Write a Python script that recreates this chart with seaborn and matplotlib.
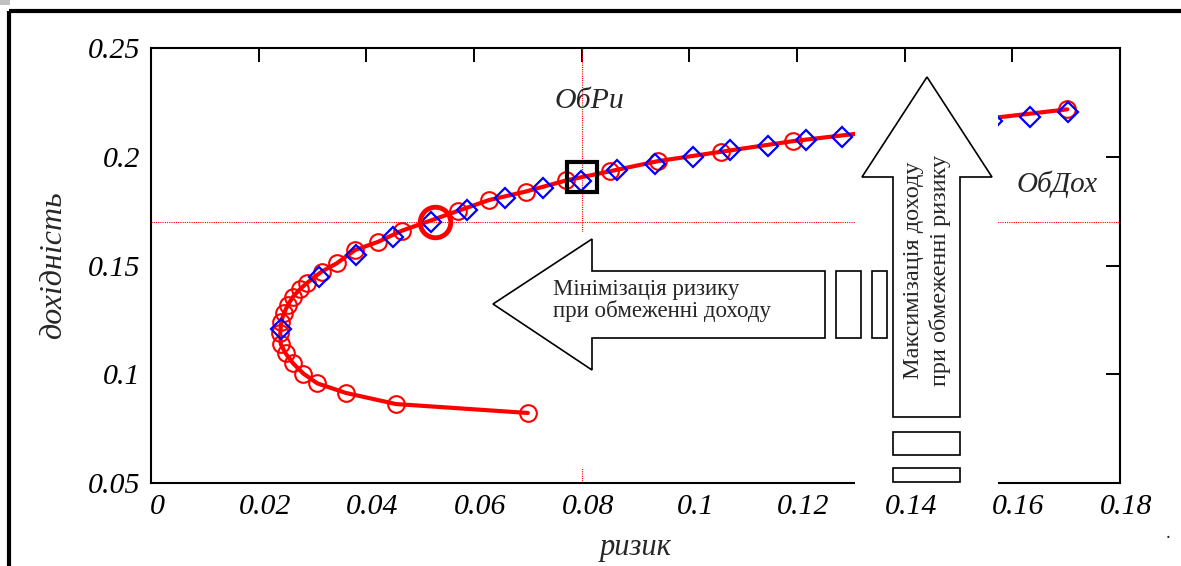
import numpy as np
import matplotlib
matplotlib.use("Agg")
import matplotlib.pyplot as plt
from matplotlib.patches import Polygon, Rectangle
from matplotlib.transforms import ScaledTranslation
import seaborn as sns

# ---------------- data ----------------
risk_frontier = [0.0700, 0.0455, 0.0362, 0.0309, 0.0283, 0.0264, 0.0250, 0.0241, 0.0240,
                 0.0242, 0.0247, 0.0254, 0.0264, 0.0277, 0.0290, 0.0317, 0.0345, 0.0379,
                 0.0422, 0.0466, 0.0570, 0.0628, 0.0696, 0.0771, 0.0852, 0.0942, 0.1059,
                 0.1193, 0.1702]
return_frontier = [0.0822, 0.0863, 0.0914, 0.0958, 0.1003, 0.1050, 0.1096, 0.1139, 0.1188,
                   0.1242, 0.1280, 0.1318, 0.1357, 0.1392, 0.1420, 0.1472, 0.1510, 0.1571,
                   0.1609, 0.1660, 0.1751, 0.1801, 0.1840, 0.1891, 0.1933, 0.1980, 0.2023,
                   0.2072, 0.2218]

risk_points = [0.0241, 0.0313, 0.0380, 0.0450, 0.0521, 0.0587, 0.0658, 0.0729, 0.0799,
               0.0866, 0.0936, 0.1007, 0.1076, 0.1147, 0.1217, 0.1283, 0.1562, 0.1633, 0.1704]
return_points = [0.1210, 0.1449, 0.1548, 0.1632, 0.1701, 0.1753, 0.1809, 0.1856, 0.1890,
                 0.1938, 0.1965, 0.2000, 0.2031, 0.2049, 0.2076, 0.2092, 0.2165, 0.2184, 0.2204]

risk_limit = 0.08        # ОбРи
return_limit = 0.17      # ОбДох
opt_min_risk = (0.0528, 0.1701)   # min risk at return limit
opt_max_ret = (0.0801, 0.1907)    # max return at risk limit

x_ticks = [0, 0.02, 0.04, 0.06, 0.08, 0.10, 0.12, 0.14, 0.16, 0.18]
x_tick_labels = ["0", "0.02", "0.04", "0.06", "0.08", "0.1", "0.12", "0.14", "0.16", "0.18"]
y_ticks = [0.05, 0.10, 0.15, 0.20, 0.25]
y_tick_labels = ["0.05", "0.1", "0.15", "0.2", "0.25"]

x_label = "ризик"
y_label = "дохідність"
label_risk = "ОбРи"
label_return = "ОбДох"
arrow_left_text = "Мінімізація ризику\nпри обмеженні доходу"
arrow_up_text = "Максимізація доходу\nпри обмеженні ризику"

# ---------------- style ----------------
sns.set_theme(style="white")
plt.rcParams["font.family"] = ["Liberation Serif", "DejaVu Serif"]

W, H = 1181, 566
fig = plt.figure(figsize=(W / 100, H / 100), dpi=100)
ax_l, ax_r, ax_t, ax_b = 151, 1120, 48, 483
ax = fig.add_axes([ax_l / W, 1 - ax_b / H, (ax_r - ax_l) / W, (ax_b - ax_t) / H])

ax.axhline(return_limit, color="red", lw=0.8, ls=(0, (1, 1)), zorder=1)
ax.axvline(risk_limit, color="red", lw=0.8, ls=(0, (1, 1)), zorder=1)

sns.lineplot(x=risk_frontier, y=return_frontier, sort=False, estimator=None, ax=ax,
             color="red", linewidth=3, marker="o", markersize=12,
             markerfacecolor="none", markeredgecolor="red", markeredgewidth=1.5, zorder=3)
sns.lineplot(x=risk_points, y=return_points, sort=False, estimator=None, ax=ax,
             color="blue", linestyle="none", marker="D", markersize=10.5,
             markerfacecolor="none", markeredgecolor="blue", markeredgewidth=1.6, zorder=4)
sns.lineplot(x=[opt_min_risk[0]], y=[opt_min_risk[1]], estimator=None, ax=ax,
             color="red", linestyle="none", marker="o", markersize=22,
             markerfacecolor="none", markeredgecolor="red", markeredgewidth=3.5, zorder=5)
sns.lineplot(x=[opt_max_ret[0]], y=[opt_max_ret[1]], estimator=None, ax=ax,
             color="black", linestyle="none", marker="s", markersize=21,
             markerfacecolor="none", markeredgecolor="black", markeredgewidth=3, zorder=5)

ax.set_xlim(0, 0.18)
ax.set_ylim(0.05, 0.25)
ax.set_xticks(x_ticks)
ax.set_xticklabels(x_tick_labels, fontsize=21.5, fontstyle="italic")
ax.set_yticks(y_ticks)
ax.set_yticklabels(y_tick_labels, fontsize=21.5, fontstyle="italic")
ax.tick_params(direction="in", top=True, right=True, length=10, width=1.4,
               colors="black")
ax.tick_params(axis="x", pad=8)
ax.tick_params(axis="y", pad=8)
shift = ScaledTranslation(6 / 100, 0, fig.dpi_scale_trans)
for lab in ax.get_xticklabels():
    lab.set_transform(lab.get_transform() + shift)
for s in ax.spines.values():
    s.set_visible(True)
    s.set_color("black")
    s.set_linewidth(1.5)
ax.set_xlabel(x_label, fontsize=22, fontstyle="italic", labelpad=9)
ax.set_ylabel(y_label, fontsize=23, fontstyle="italic", labelpad=14)
ax.grid(False)
if ax.get_legend():
    ax.get_legend().remove()

# ---------------- overlay (arrows, frame) ----------------
ov = fig.add_axes([0, 0, 1, 1], zorder=10)
ov.set_xlim(0, W)
ov.set_ylim(H, 0)
ov.axis("off")
ov.patch.set_alpha(0)

edge = dict(edgecolor="black", facecolor="white", linewidth=1.2)
# vertical arrow (pasted picture with white background)
ov.add_patch(Rectangle((855, 66), 143, 420, facecolor="white", edgecolor="none"))
ov.add_patch(Polygon([(927, 77), (992, 177), (960, 177), (960, 417), (893, 417),
                      (893, 177), (862, 177)], closed=True, **edge))
ov.add_patch(Rectangle((893, 432), 67, 23, **edge))
ov.add_patch(Rectangle((893, 468), 67, 14, **edge))
ov.text(927, 386, arrow_up_text, rotation=90, ha="center", va="bottom",
        fontsize=17.5, linespacing=1.3, family=["Liberation Serif", "DejaVu Serif"])

# horizontal arrow
ov.add_patch(Rectangle((545, 232), 345, 236, facecolor="white", edgecolor="none"))
ov.add_patch(Polygon([(493, 304), (592, 239), (592, 271), (825, 271), (825, 338),
                      (592, 338), (592, 370)], closed=True, **edge))
ov.add_patch(Rectangle((836, 271), 25, 67, **edge))
ov.add_patch(Rectangle((872, 271), 15, 67, **edge))
ov.text(553, 300, arrow_left_text, ha="left", va="center", fontsize=16.5,
        linespacing=1.0, family=["Liberation Serif", "DejaVu Serif"])

ov.text(589, 101, label_risk, ha="center", va="center", fontsize=21.5, fontstyle="italic")
ov.text(1057, 184, label_return, ha="center", va="center", fontsize=21, fontstyle="italic")
ov.text(1168, 534, ".", ha="center", va="center", fontsize=14)

# outer frame
ov.plot([9, W], [11, 11], color="black", lw=3, solid_capstyle="butt")
ov.plot([9, 9], [11, H], color="black", lw=3, solid_capstyle="butt")
ov.add_patch(Rectangle((0, 0), 10, 5, facecolor="#c0c0c0", edgecolor="none"))

fig.savefig("out.png", dpi=100)
